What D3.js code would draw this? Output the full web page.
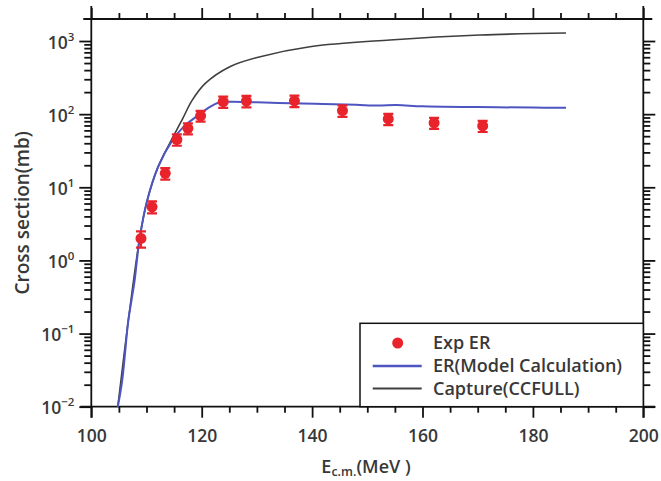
<!DOCTYPE html>
<html>
<head>
<meta charset="utf-8">
<script src="https://cdn.jsdelivr.net/npm/d3@7"></script>
<style>
  body { margin: 0; background: #fff; }
  svg { display: block; }
  text { font-family: "Open Sans", sans-serif; fill: #383838; font-weight: 600; }
</style>
</head>
<body>
<svg id="chart" width="661" height="481"></svg>
<script>
// measured ER cross sections (mb) with error bars
const expEnergy = [109, 111, 113.4, 115.5, 117.5, 119.8, 123.9, 128.1, 136.8, 145.5, 153.8, 162.1, 170.9];
const expSigma  = [2.0, 5.4, 15.5, 45, 64, 95, 148, 151, 152, 112, 86, 76, 69];
const expErr    = [0.5, 1.0, 2.8, 8, 11, 16, 26, 27, 27, 20, 15, 13, 12];

// ER model calculation
const modelEnergy = [104.8, 105.6, 106.7, 107.3, 107.8, 108.8, 110.1, 112.1, 114.7, 116.7, 119.4, 121.5, 123, 125.1, 130, 136, 142, 148, 152, 155.3, 160, 170, 180, 186];
const modelSigma  = [0.01, 0.023, 0.15, 0.29, 0.5, 2.1, 6.5, 19, 44, 67, 97, 126, 143, 148, 145, 141, 138, 134, 131, 133, 128, 125, 123, 122];

// capture (CCFULL)
const captureEnergy = [104.8, 106.7, 108.8, 110.1, 112.1, 114.2, 116.6, 118.2, 120.6, 125.1, 130.6, 139.6, 154.1, 170.4, 186];
const captureSigma  = [0.01, 0.15, 2.1, 6.5, 19, 40, 88, 152, 262, 446, 611, 836, 1033, 1208, 1288];

const xMajor = [100, 120, 140, 160, 180, 200];
const xMinor = d3.range(100, 201, 5).filter(v => v % 20);
const yMajor = [1e-2, 1e-1, 1e0, 1e1, 1e2, 1e3];
const yMinor = [];
yMajor.forEach(d => { for (let k = 2; k <= 9; k++) if (d * k < 2000) yMinor.push(d * k); });

const legendItems = ["Exp ER", "ER(Model Calculation)", "Capture(CCFULL)"];

const pLeft = 91.3, pRight = 643.3, pTop = 19, pBottom = 406.7;
const red = "#e8232b", blue = "#4d55c0", dark = "#3f3f3f";

const svg = d3.select("#chart");

const x = d3.scaleLinear().domain([100, 200]).range([pLeft, pRight]);
const y = d3.scaleLog().domain([0.01, 2000]).range([pBottom, pTop]);

// ============================
// axes and ticks
// ============================
const styleAxis = g => {
  g.select(".domain").remove();
  g.selectAll(".tick line").attr("stroke", "#111").attr("stroke-width", 1.8);
  g.selectAll("text").attr("font-size", 17.5).attr("fill", "#383838");
  g.attr("font-family", null);
};

svg.append("g")
  .attr("transform", `translate(0,${pBottom})`)
  .call(d3.axisBottom(x).tickValues(xMajor).tickSize(11).tickPadding(12).tickFormat(d3.format("d")))
  .call(styleAxis);
svg.append("g")
  .attr("transform", `translate(0,${pBottom})`)
  .call(d3.axisBottom(x).tickValues(xMinor).tickSize(6).tickFormat(""))
  .call(styleAxis);
svg.append("g")
  .attr("transform", `translate(0,${pTop})`)
  .call(d3.axisTop(x).tickValues(xMajor).tickSize(11).tickFormat(""))
  .call(styleAxis);
svg.append("g")
  .attr("transform", `translate(0,${pTop})`)
  .call(d3.axisTop(x).tickValues(xMinor).tickSize(6).tickFormat(""))
  .call(styleAxis);

svg.append("g")
  .attr("transform", `translate(${pLeft},0)`)
  .call(d3.axisLeft(y).tickValues(yMajor).tickSize(12).tickPadding(5).tickFormat(""))
  .call(styleAxis)
  .call(g => g.selectAll(".tick text").each(function(d) {
    const e = Math.round(Math.log10(d));
    const t = d3.select(this).attr("dy", "0.4em");
    t.append("tspan").text("10");
    t.append("tspan").attr("dy", -8).attr("font-size", 11.5).text(e < 0 ? "\u2212" + (-e) : e);
  }));
svg.append("g")
  .attr("transform", `translate(${pLeft},0)`)
  .call(d3.axisLeft(y).tickValues(yMinor).tickSize(7).tickFormat(""))
  .call(styleAxis);
svg.append("g")
  .attr("transform", `translate(${pRight},0)`)
  .call(d3.axisRight(y).tickValues(yMajor).tickSize(12).tickFormat(""))
  .call(styleAxis);
svg.append("g")
  .attr("transform", `translate(${pRight},0)`)
  .call(d3.axisRight(y).tickValues(yMinor).tickSize(7).tickFormat(""))
  .call(styleAxis);

// frame, the lines run a little past the corners
const frame = svg.append("g").attr("stroke", "#111").attr("stroke-width", 1.8);
frame.append("line").attr("x1", pLeft - 8).attr("x2", pRight + 9).attr("y1", pTop).attr("y2", pTop);
frame.append("line").attr("x1", pLeft - 11).attr("x2", pRight + 12).attr("y1", pBottom).attr("y2", pBottom);
frame.append("line").attr("x1", pLeft).attr("x2", pLeft).attr("y1", pTop - 13).attr("y2", pBottom + 11);
frame.append("line").attr("x1", pRight).attr("x2", pRight).attr("y1", pTop - 13).attr("y2", pBottom + 11);

// axis titles
svg.append("text")
  .attr("transform", `translate(29,${(pTop + pBottom) / 2}) rotate(-90)`)
  .attr("text-anchor", "middle")
  .attr("font-size", 19)
  .text("Cross section(mb)");

const xt = svg.append("text")
  .attr("x", 366)
  .attr("y", 473)
  .attr("text-anchor", "middle")
  .attr("font-size", 18);
xt.append("tspan").text("E");
xt.append("tspan").attr("font-size", 12.5).attr("dy", 3).text("c.m.");
xt.append("tspan").attr("dy", -3).text("(MeV )");

// ============================
// curves
// ============================
const curve = d3.line()
  .curve(d3.curveCatmullRom.alpha(0.5))
  .x(d => x(d[0]))
  .y(d => y(d[1]));

svg.append("path")
  .datum(d3.zip(captureEnergy, captureSigma))
  .attr("fill", "none")
  .attr("stroke", dark)
  .attr("stroke-width", 1.6)
  .attr("d", curve);

svg.append("path")
  .datum(d3.zip(modelEnergy, modelSigma))
  .attr("fill", "none")
  .attr("stroke", blue)
  .attr("stroke-width", 2)
  .attr("d", curve);

// ============================
// data points with error bars
// ============================
const pts = svg.append("g").attr("stroke", red).attr("fill", red).attr("stroke-width", 2.2);
const exp = expEnergy.map((e, i) => ({e, s: expSigma[i], err: expErr[i]}));

pts.selectAll(".bar")
  .data(exp)
  .join("path")
  .attr("class", "bar")
  .attr("fill", "none")
  .attr("d", d => {
    const cx = x(d.e), y0 = y(d.s - d.err), y1 = y(d.s + d.err);
    return `M${cx - 5},${y0}H${cx + 5}M${cx},${y0}V${y1}M${cx - 5},${y1}H${cx + 5}`;
  });

pts.selectAll("circle")
  .data(exp)
  .join("circle")
  .attr("stroke", "none")
  .attr("r", 5.5)
  .attr("cx", d => x(d.e))
  .attr("cy", d => y(d.s));

// ============================
// legend
// ============================
const legend = svg.append("g");
legend.append("rect")
  .attr("x", 360).attr("y", 323.3)
  .attr("width", pRight - 360).attr("height", pBottom - 323.3)
  .attr("fill", "#fff").attr("stroke", "#111").attr("stroke-width", 1.5);

const rowY = [343, 366, 388.5];
legend.append("circle").attr("cx", 397.7).attr("cy", rowY[0]).attr("r", 5.5).attr("fill", red);
legend.append("line").attr("x1", 372.7).attr("x2", 421.7).attr("y1", rowY[1]).attr("y2", rowY[1])
  .attr("stroke", blue).attr("stroke-width", 2.5);
legend.append("line").attr("x1", 372.7).attr("x2", 421.7).attr("y1", rowY[2]).attr("y2", rowY[2])
  .attr("stroke", dark).attr("stroke-width", 2);

legend.selectAll(".label")
  .data(legendItems)
  .join("text")
  .attr("class", "label")
  .attr("x", 433)
  .attr("y", (d, i) => rowY[i])
  .attr("dy", "0.36em")
  .attr("font-size", 18)
  .text(d => d);
</script>
</body>
</html>
